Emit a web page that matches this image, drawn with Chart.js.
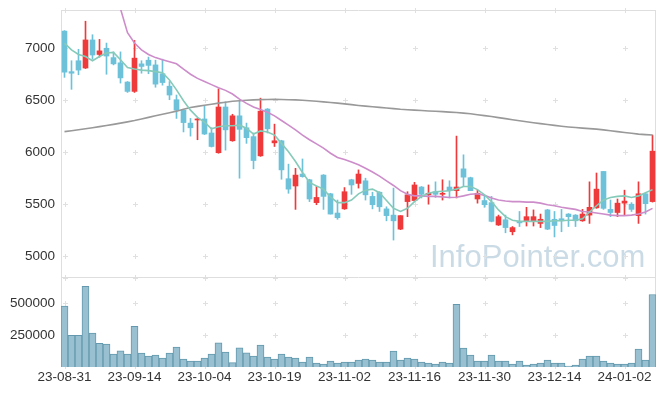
<!DOCTYPE html>
<html lang="ko">
<head>
  <meta charset="UTF-8">
  <title>Candle Chart</title>
  <script src="https://cdn.jsdelivr.net/npm/chart.js@4.4.1/dist/chart.umd.min.js"></script>
  <style>
    html, body { margin: 0; padding: 0; background: #fff; }
    #wrap { position: relative; width: 665px; height: 396px; }
    #wrap canvas { position: absolute; left: 0; }
  </style>
</head>
<body>
  <div id="wrap">
    <canvas id="price" width="665" height="278" style="top:0"></canvas>
    <canvas id="volume" width="665" height="118" style="top:278px"></canvas>
  </div>
  <script>
    const dates = [
      '23-08-31','23-09-01','23-09-04','23-09-05','23-09-06','23-09-07','23-09-08','23-09-11','23-09-12','23-09-13',
      '23-09-14','23-09-15','23-09-18','23-09-19','23-09-20','23-09-21','23-09-22','23-09-25','23-09-26','23-09-27',
      '23-10-04','23-10-05','23-10-06','23-10-10','23-10-11','23-10-12','23-10-13','23-10-16','23-10-17','23-10-18',
      '23-10-19','23-10-20','23-10-23','23-10-24','23-10-25','23-10-26','23-10-27','23-10-30','23-10-31','23-11-01',
      '23-11-02','23-11-03','23-11-06','23-11-07','23-11-08','23-11-09','23-11-10','23-11-13','23-11-14','23-11-15',
      '23-11-16','23-11-17','23-11-20','23-11-21','23-11-22','23-11-23','23-11-24','23-11-27','23-11-28','23-11-29',
      '23-11-30','23-12-01','23-12-04','23-12-05','23-12-06','23-12-07','23-12-08','23-12-11','23-12-12','23-12-13',
      '23-12-14','23-12-15','23-12-18','23-12-19','23-12-20','23-12-21','23-12-22','23-12-26','23-12-27','23-12-28',
      '24-01-02','24-01-03','24-01-04','24-01-05','24-01-08'
    ];

    const opens = [
      7165, 6775, 6880, 6810, 7080, 6940, 7000, 6910, 6860, 6675,
      6585, 6850, 6885, 6840, 6755, 6635, 6505, 6405, 6280, 6310,
      6320, 6185, 5995, 6435, 6110, 6350, 6235, 6150, 5965, 6415,
      6090, 6110, 5745, 5675, 5790, 5735, 5515, 5780, 5600, 5415,
      5455, 5735, 5700, 5725, 5575, 5615, 5455, 5395, 5260, 5525,
      5535, 5665, 5590, 5620, 5595, 5665, 5630, 5840, 5755, 5550,
      5535, 5515, 5300, 5350, 5235, 5330, 5340, 5335, 5315, 5445,
      5355, 5360, 5405, 5395, 5340, 5395, 5465, 5815, 5450, 5420,
      5510, 5500, 5390, 5600, 5525
    ];
    const highs = [
      7170, 6880, 6990, 7260, 7130, 7085, 7050, 6965, 6965, 6680,
      7075, 6880, 6915, 6885, 6895, 6680, 6550, 6410, 6325, 6325,
      6450, 6235, 6610, 6485, 6365, 6495, 6280, 6185, 6520, 6420,
      6270, 6115, 5885, 5845, 5935, 5740, 5670, 5785, 5605, 5540,
      5660, 5740, 5830, 5750, 5615, 5620, 5475, 5655, 5390, 5620,
      5710, 5670, 5685, 5715, 5735, 5725, 6155, 5975, 5760, 5635,
      5580, 5575, 5395, 5395, 5285, 5430, 5470, 5445, 5405, 5450,
      5430, 5450, 5410, 5400, 5450, 5715, 5800, 5815, 5540, 5550,
      5635, 5515, 5715, 5605, 6165
    ];
    const lows = [
      6720, 6605, 6745, 6805, 6895, 6915, 6750, 6840, 6665, 6575,
      6575, 6760, 6755, 6625, 6645, 6505, 6325, 6195, 6155, 6120,
      6170, 6050, 5990, 6020, 6105, 5750, 6085, 5840, 5960, 6185,
      6055, 5740, 5605, 5450, 5760, 5525, 5495, 5450, 5405, 5355,
      5450, 5595, 5655, 5540, 5455, 5430, 5340, 5155, 5255, 5380,
      5530, 5560, 5500, 5565, 5540, 5560, 5560, 5670, 5630, 5510,
      5470, 5330, 5295, 5225, 5205, 5285, 5290, 5290, 5275, 5255,
      5185, 5235, 5285, 5285, 5335, 5315, 5460, 5450, 5380, 5380,
      5395, 5430, 5315, 5405, 5520
    ];
    const closes = [
      6770, 6760, 6790, 7080, 6935, 6975, 6925, 6850, 6715, 6585,
      6905, 6825, 6835, 6655, 6670, 6550, 6405, 6285, 6235, 6320,
      6175, 6055, 6435, 6215, 6350, 6220, 6140, 5920, 6395, 6225,
      6110, 5830, 5645, 5780, 5765, 5550, 5565, 5575, 5405, 5370,
      5620, 5685, 5790, 5590, 5495, 5475, 5390, 5340, 5390, 5590,
      5685, 5595, 5605, 5595, 5605, 5630, 5665, 5760, 5630, 5605,
      5495, 5335, 5380, 5275, 5275, 5320, 5380, 5380, 5355, 5260,
      5295, 5340, 5380, 5340, 5405, 5470, 5645, 5460, 5420, 5510,
      5530, 5450, 5600, 5505, 6010
    ];

    // moving averages (5, 20 and long period)
    const ma5 = [
      7050, 6985, 6940, 6920, 6880, 6920, 6955, 6960, 6890, 6815,
      6800, 6790, 6785, 6775, 6765, 6695, 6600, 6495, 6405, 6335,
      6290, 6225, 6245, 6255, 6255, 6260, 6230, 6175, 6205, 6195,
      6165, 6085, 6005, 5910, 5805, 5710, 5675, 5645, 5570, 5515,
      5515, 5540, 5600, 5635, 5645, 5610, 5535, 5460, 5430, 5460,
      5525, 5575, 5605, 5620, 5625, 5630, 5645, 5670, 5670, 5640,
      5590, 5525, 5445, 5380, 5345, 5335, 5335, 5335, 5335, 5335,
      5340, 5340, 5345, 5345, 5360, 5425, 5485, 5540, 5565, 5575,
      5580, 5565, 5580, 5610, 5640
    ];
    const ma20 = [
      8500, 8350, 8250, 8120, 8000, 7880, 7750, 7580, 7380, 7150,
      7050, 6985, 6940, 6910, 6890, 6870, 6850, 6800, 6750, 6710,
      6680, 6650, 6620, 6595, 6560, 6510, 6470, 6435, 6410, 6385,
      6350, 6305, 6260, 6215, 6165, 6120, 6080, 6040, 5990, 5950,
      5930, 5905, 5880, 5845, 5810, 5770, 5725, 5680, 5630, 5595,
      5580, 5580, 5575, 5575, 5570, 5565, 5567, 5580, 5595, 5600,
      5585, 5560, 5540, 5530, 5525, 5525, 5520, 5520, 5510, 5495,
      5485, 5470, 5460, 5450, 5430, 5425, 5415, 5405, 5395, 5390,
      5390, 5395, 5405, 5425, 5460
    ];
    const maLong = [
      6198, 6207, 6216, 6225, 6235, 6246, 6257, 6268, 6280, 6292,
      6305, 6320, 6335, 6350, 6365, 6380, 6395, 6413, 6430, 6441,
      6452, 6462, 6472, 6481, 6490, 6495, 6500, 6503, 6506, 6507,
      6508, 6507, 6505, 6503, 6500, 6495, 6490, 6484, 6478, 6472,
      6465, 6458, 6450, 6443, 6437, 6431, 6425, 6419, 6413, 6409,
      6405, 6401, 6397, 6394, 6390, 6386, 6382, 6376, 6370, 6361,
      6352, 6343, 6333, 6323, 6313, 6303, 6293, 6284, 6275, 6266,
      6258, 6250, 6243, 6237, 6232, 6227, 6222, 6215, 6207, 6198,
      6190, 6182, 6174, 6169, 6165
    ];

    const volumes = [
      479000, 250000, 250000, 635000, 266000, 187000, 180000, 102000, 127000, 102000,
      320000, 109000, 86000, 94000, 70000, 109000, 156000, 62000, 47000, 47000,
      70000, 102000, 190000, 118000, 34000, 151000, 112000, 86000, 172000, 78000,
      62000, 102000, 78000, 70000, 39000, 78000, 31000, 23000, 47000, 31000,
      39000, 39000, 55000, 62000, 55000, 39000, 39000, 125000, 55000, 70000,
      62000, 39000, 31000, 23000, 39000, 31000, 492000, 148000, 94000, 47000,
      47000, 94000, 47000, 47000, 23000, 47000, 16000, 23000, 31000, 55000,
      31000, 31000, 8000, 16000, 62000, 86000, 86000, 47000, 31000, 23000,
      23000, 31000, 141000, 55000, 570000
    ];

    const priceTicks = [5000, 5500, 6000, 6500, 7000];
    const volumeTicks = [250000, 500000];

    const UP = '#ef3a3c';
    const DOWN = '#6dc2da';
    const candleColors = closes.map((c, i) => c >= opens[i] ? UP : DOWN);
    const FONT = { family: "'Liberation Sans', Arial, sans-serif", size: 13.5 };

    // frame, small grid crosses and watermark
    const frame = {
      id: 'frame',
      beforeDatasetsDraw(chart, args, opts) {
        const { ctx, chartArea: a, scales: { x, y } } = chart;
        ctx.save();
        if (opts.mark) {
          ctx.fillStyle = 'rgba(160,190,210,0.55)';
          ctx.font = "31px 'Liberation Sans', Arial, sans-serif";
          ctx.textBaseline = 'alphabetic';
          ctx.fillText('InfoPointer.com', 430, 267);
        }
        ctx.strokeStyle = '#e0e0e0';
        ctx.lineWidth = 1;
        const ys = opts.ticks.map(v => Math.round(y.getPixelForValue(v)) + 0.5);
        ys.push(a.top + 0.5, a.bottom - 0.5);
        ctx.beginPath();
        for (let i = 0; i < dates.length; i += 10) {
          const px = Math.round(x.getPixelForValue(i)) + 0.5;
          ys.forEach(py => {
            ctx.moveTo(px - 2.5, py); ctx.lineTo(px + 2.5, py);
            ctx.moveTo(px, py - 2.5); ctx.lineTo(px, py + 2.5);
          });
        }
        ctx.stroke();
        ctx.strokeStyle = '#dedede';
        ctx.beginPath();
        if (opts.top) { ctx.moveTo(a.left, a.top + 0.5); ctx.lineTo(a.right, a.top + 0.5); }
        ctx.moveTo(a.left, a.bottom - 0.5); ctx.lineTo(a.right, a.bottom - 0.5);
        ctx.moveTo(a.left + 0.5, a.top); ctx.lineTo(a.left + 0.5, a.bottom);
        ctx.moveTo(a.right - 0.5, a.top); ctx.lineTo(a.right - 0.5, a.bottom);
        ctx.stroke();
        ctx.restore();
      }
    };

    const xScale = (show) => ({
      type: 'category',
      offset: true,
      display: show,
      grid: { display: false, drawTicks: false },
      border: { display: false },
      afterFit: s => {
        s.height = show ? 29 : 0;
        s.paddingLeft = 0; s.paddingRight = 0;
      },
      ticks: {
        autoSkip: false, maxRotation: 0, padding: 2, color: '#333', font: FONT,
        callback: (v, i) => i % 10 === 0 ? dates[i] : ''
      }
    });

    const yFit = s => {
      s.width = 61;
      s.paddingTop = 0; s.paddingBottom = 0;
    };

    new Chart(document.getElementById('price'), {
      type: 'bar',
      data: {
        labels: dates,
        datasets: [
          { type: 'line', data: ma5, borderColor: '#86cab9', borderWidth: 1.6, pointRadius: 0, tension: 0, order: 0 },
          { type: 'line', data: ma20, borderColor: '#cd8cca', borderWidth: 1.6, pointRadius: 0, tension: 0, order: 0 },
          { type: 'line', data: maLong, borderColor: '#999999', borderWidth: 1.6, pointRadius: 0, tension: 0, order: 0 },
          { data: opens.map((o, i) => [o, closes[i]]), backgroundColor: candleColors, barThickness: 5, minBarLength: 1, grouped: false, order: 1 },
          { data: lows.map((l, i) => [l, highs[i]]), backgroundColor: candleColors, barThickness: 1, grouped: false, order: 2 }
        ]
      },
      options: {
        responsive: false,
        animation: false,
        devicePixelRatio: 1,
        layout: { padding: { top: 10, right: 9, bottom: 0, left: 0 } },
        plugins: {
          legend: { display: false },
          tooltip: { enabled: false },
          frame: { ticks: priceTicks, mark: true, top: true }
        },
        scales: {
          x: xScale(false),
          y: {
            min: 4790, max: 7368,
            grid: { display: false, drawTicks: false },
            border: { display: false },
            afterFit: yFit,
            afterBuildTicks: s => { s.ticks = priceTicks.map(v => ({ value: v })); },
            ticks: { padding: 6, color: '#333', font: FONT, callback: v => String(v) }
          }
        }
      },
      plugins: [frame]
    });

    new Chart(document.getElementById('volume'), {
      type: 'bar',
      data: {
        labels: dates,
        datasets: [{
          data: volumes,
          backgroundColor: '#98c0d0',
          borderColor: '#6398ae',
          borderWidth: 1,
          barPercentage: 1,
          categoryPercentage: 1
        }]
      },
      options: {
        responsive: false,
        animation: false,
        devicePixelRatio: 1,
        layout: { padding: { top: 0, right: 9, bottom: 0, left: 0 } },
        plugins: {
          legend: { display: false },
          tooltip: { enabled: false },
          frame: { ticks: volumeTicks, mark: false, top: false }
        },
        scales: {
          x: xScale(true),
          y: {
            min: 0, max: 700000,
            grid: { display: false, drawTicks: false },
            border: { display: false },
            afterFit: yFit,
            afterBuildTicks: s => { s.ticks = volumeTicks.map(v => ({ value: v })); },
            ticks: { padding: 6, color: '#333', font: FONT, callback: v => String(v) }
          }
        }
      },
      plugins: [frame]
    });
  </script>
</body>
</html>
